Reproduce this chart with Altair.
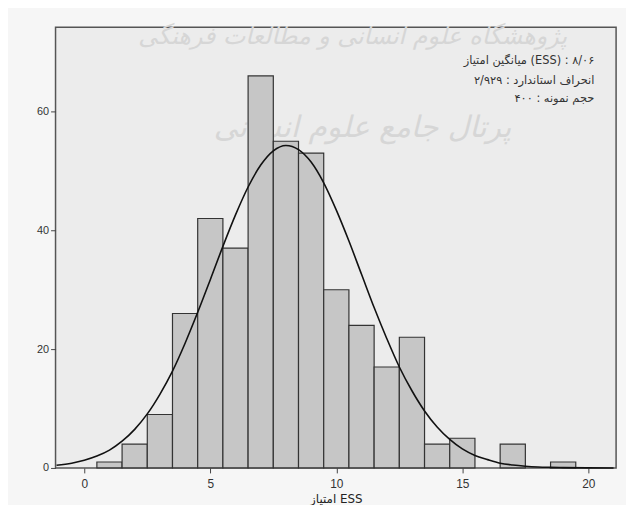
import altair as alt
import pandas as pd

# histogram bins (centres) and counts
bin_centres = [1, 2, 3, 4, 5, 6, 7, 8, 9, 10, 11, 12, 13, 14, 15, 17, 19]
counts = [1, 4, 9, 26, 42, 37, 66, 55, 53, 30, 24, 17, 22, 4, 5, 4, 1]

# normal curve
curve_x = [-1.1, -0.5, 0, 0.5, 1, 1.5, 2, 2.5, 3, 3.5, 4, 4.5, 5, 5.5, 6, 6.5, 7, 7.5,
           8, 8.5, 9, 9.5, 10, 10.5, 11, 11.5, 12, 12.5, 13, 13.5, 14, 14.5, 15, 15.5,
           16, 16.5, 17, 17.5, 18, 18.5, 19, 20, 21]
curve_y = [0.45, 0.8, 1.3, 2.0, 3.0, 4.5, 6.5, 9.1, 12.4, 16.3, 21.0, 26.2, 31.7, 37.3,
           42.6, 47.3, 51.0, 53.4, 54.3, 53.6, 51.5, 48.0, 43.4, 38.2, 32.6, 27.0, 21.8,
           17.0, 13.0, 9.6, 6.9, 4.8, 3.2, 2.1, 1.4, 0.8, 0.5, 0.3, 0.17, 0.1, 0.05, 0.01, 0.0]

x_ticks = [0, 5, 10, 15, 20]
y_ticks = [0, 20, 40, 60]

stats_lines = [
    "میانگین امتیاز (ESS) : ۸/۰۶",
    "انحراف استاندارد : ۲/۹۲۹",
    "حجم نمونه : ۴۰۰",
]
watermark_lines = ["پژوهشگاه علوم انسانی و مطالعات فرهنگی", "پرتال جامع علوم انسانی"]

hist_df = pd.DataFrame({"centre": bin_centres, "count": counts})
curve_df = pd.DataFrame({"x": curve_x, "y": curve_y})

W, H = 566, 445
xscale = alt.Scale(domain=[-1.14, 21.1], nice=False, zero=False)
yscale = alt.Scale(domain=[0, 74.2], nice=False, zero=False)

label_font = "Liberation Sans"

xaxis = alt.Axis(values=x_ticks, title="امتیاز ESS", grid=False, domain=False,
                 tickSize=5, tickColor="#444", labelColor="#333", labelFontSize=12,
                 labelFont=label_font, titleFont="DejaVu Sans", titleFontSize=12,
                 titleFontWeight="normal", titleColor="#222", titlePadding=4, labelPadding=6)
yaxis = alt.Axis(values=y_ticks, title=None, grid=False, domain=False,
                 tickSize=5, tickColor="#444", labelColor="#333", labelFontSize=11,
                 labelFont=label_font, labelPadding=2)

watermark = alt.Chart(pd.DataFrame({"t": watermark_lines, "px": [300, 310], "py": [10, 102], "fs": [24, 30]})).mark_text(
    font="DejaVu Sans", color="#d6d6d6", fontStyle="italic", align="center", baseline="middle"
).encode(
    text="t:N",
    x=alt.X("px:Q", scale=None),
    y=alt.Y("py:Q", scale=None),
    size=alt.Size("fs:Q", scale=None, legend=None),
)

bars = alt.Chart(hist_df).transform_calculate(
    lo="datum.centre - 0.5", hi="datum.centre + 0.5"
).mark_bar(fill="#c6c6c6", stroke="#333333", strokeWidth=1.2).encode(
    x=alt.X("lo:Q", scale=xscale, axis=xaxis),
    x2="hi:Q",
    y=alt.Y("count:Q", scale=yscale, axis=yaxis),
    y2=alt.datum(0),
)

curve = alt.Chart(curve_df).mark_line(color="#111111", strokeWidth=1.6, interpolate="monotone").encode(
    x=alt.X("x:Q", scale=xscale),
    y=alt.Y("y:Q", scale=yscale),
)

stats = alt.Chart(pd.DataFrame({"t": stats_lines, "py": [34, 54, 73]})).mark_text(
    font="DejaVu Sans", fontSize=11.5, color="#333", align="right", baseline="middle"
).encode(
    text="t:N",
    x=alt.value(544),
    y=alt.Y("py:Q", scale=None),
)

chart = alt.layer(watermark, bars, curve, stats).properties(
    width=W, height=H,
    autosize=alt.AutoSizeParams(type="none"),
    padding={"left": 48, "top": 17, "right": 10, "bottom": 35},
    background="#f6f6f6",
).configure_view(
    fill="#ececec", stroke="#555555", strokeWidth=1.5
)

chart.save("out.html", embed_options={"renderer": "svg", "actions": False})
